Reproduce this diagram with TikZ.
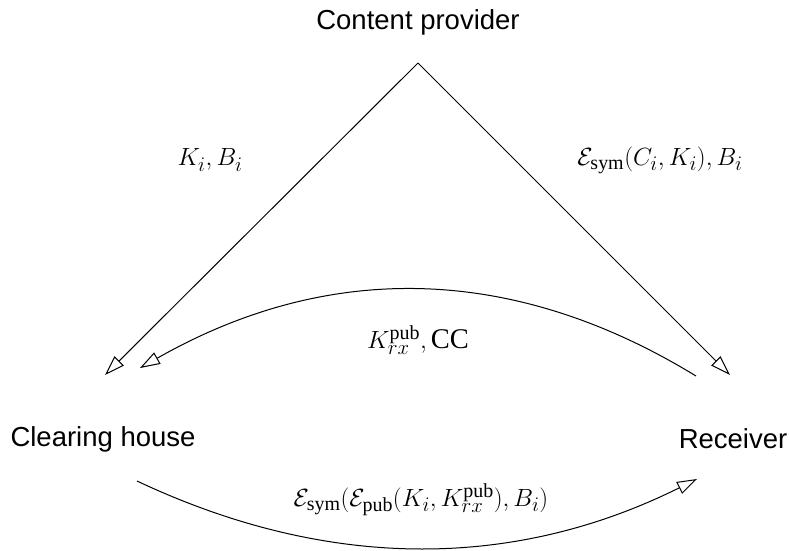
\documentclass[tikz,border=0pt]{standalone}
\usepackage{fontspec}
\setmainfont{Liberation Serif}
\newfontfamily\labelfont{Liberation Sans}
\usetikzlibrary{arrows.meta}
\tikzset{
  party/.style={font=\labelfont\fontsize{27.5}{33}\selectfont, inner sep=0pt},
  msg/.style={font=\fontsize{28.5}{34}\selectfont, inner sep=0pt},
  flow/.style={line width=1pt, -{Triangle[open, length=20pt, width=13pt]}},
}
\begin{document}
\begin{tikzpicture}[x=1pt,y=-1pt]
  \useasboundingbox (0,0) rectangle (790,550);
  % parties
  \node[party] (cp) at (418,22) {Content provider};
  \node[party] (ch) at (103,439) {Clearing house};
  \node[party] (rx) at (733,439) {Receiver};
  % connector end points
  \coordinate (apex) at (418,63);
  \coordinate (chIn) at (105,375);
  \coordinate (rxIn) at (730,375);
  \coordinate (rxOut) at (696,376);
  \coordinate (chBack) at (140,368);
  \coordinate (chOut) at (137,481);
  \coordinate (rxBack) at (697,479);
  % flows
  \draw[flow] (apex) -- (chIn);
  \draw[flow] (apex) -- (rxIn);
  \draw[flow] (rxOut) .. controls (513,264) and (328,261) .. (chBack);
  \draw[flow] (chOut) .. controls (328,571) and (514,570) .. (rxBack);
  % messages
  \node[msg] (m1) at (210,160) {$K_i, B_i$};
  \node[msg] (m2) at (660,160) {$\mathcal{E}_{\mathrm{sym}}(C_i, K_i), B_i$};
  \node[msg] (m3) at (418,340) {$K_{rx}^{\mathrm{pub}}, \mathrm{CC}$};
  \node[msg] (m4) at (421,500) {$\mathcal{E}_{\mathrm{sym}}(\mathcal{E}_{\mathrm{pub}}(K_i, K_{rx}^{\mathrm{pub}}), B_i)$};
\end{tikzpicture}
\end{document}
